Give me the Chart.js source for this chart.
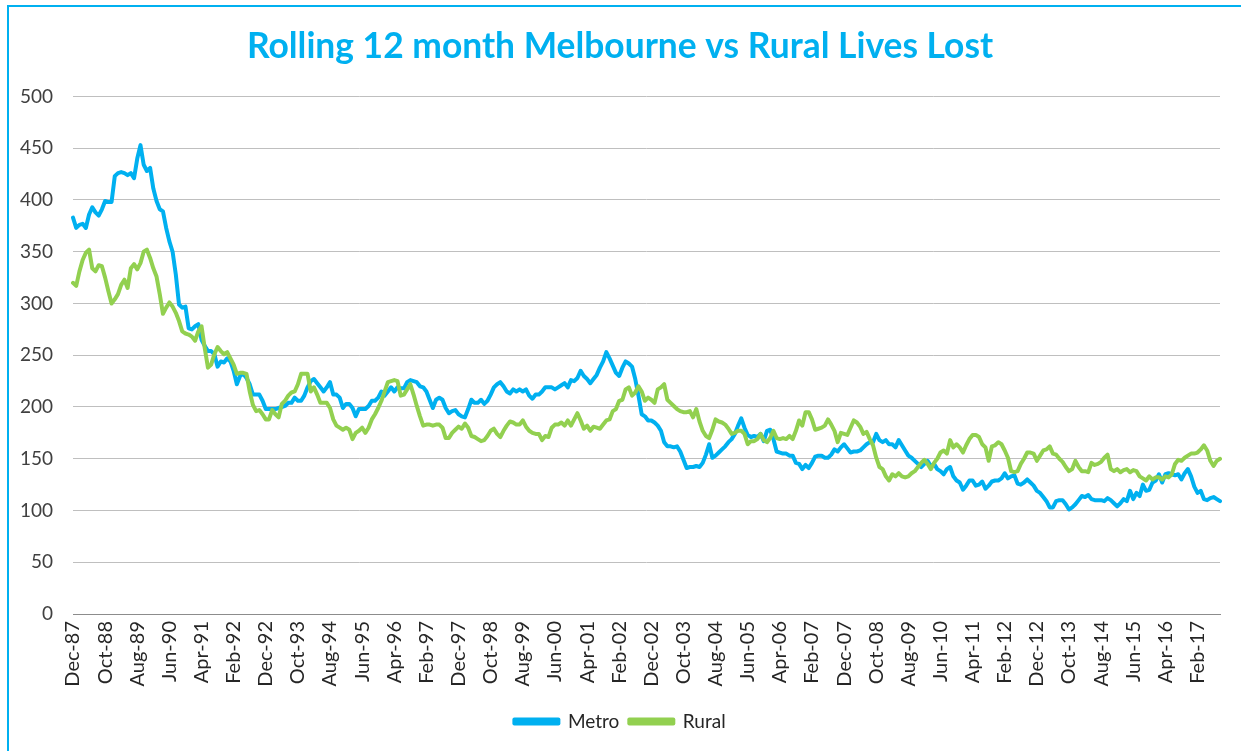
<!DOCTYPE html>
<html>
<head>
<meta charset="utf-8">
<script src="https://cdn.jsdelivr.net/npm/chart.js@4.4.1/dist/chart.umd.min.js"></script>
<style>
  html, body { margin: 0; padding: 0; background: #fff; overflow: hidden; }
  #frame { position: absolute; left: 7px; top: 5px; width: 1300px; height: 800px; border: 2px solid #00B0F0; }
  #wrap { position: absolute; left: 0; top: 0; width: 1241px; height: 751px; }
</style>
</head>
<body>
<div id="frame"></div>
<div id="wrap"><canvas id="chart"></canvas></div>
<script>
// monthly rolling 12 month totals, Dec-87 onwards
const startYear = 1987;
const startMonth = 11; // Dec
const monthNames = ['Jan', 'Feb', 'Mar', 'Apr', 'May', 'Jun', 'Jul', 'Aug', 'Sep', 'Oct', 'Nov', 'Dec'];
const tickEvery = 10;
const yTicks = [0, 50, 100, 150, 200, 250, 300, 350, 400, 450, 500];

const metro = [
    383, 373, 376, 377, 373, 386, 393, 388, 385, 391,
    399, 398, 398, 423, 426, 427, 426, 424, 426, 421,
    440, 453, 434, 428, 431, 411, 399, 391, 389, 373,
    360, 350, 328, 299, 296, 297, 276, 275, 278, 280,
    265, 259, 254, 254, 251, 239, 244, 243, 247, 244,
    235, 222, 230, 232, 228, 222, 212, 212, 212, 206,
    198, 198, 198, 198, 199, 200, 201, 204, 204, 209,
    206, 206, 211, 219, 225, 227, 223, 219, 215, 219,
    224, 212, 212, 209, 199, 203, 203, 199, 191, 198,
    198, 198, 201, 206, 206, 209, 215, 211, 215, 219,
    215, 219, 218, 218, 224, 226, 225, 224, 220, 219,
    215, 207, 199, 207, 209, 207, 199, 194, 196, 197,
    193, 191, 190, 198, 207, 204, 204, 207, 203, 206,
    212, 219, 222, 224, 220, 215, 213, 217, 215, 217,
    215, 217, 211, 208, 212, 212, 215, 219, 219, 219,
    217, 219, 221, 223, 219, 226, 225, 228, 235, 230,
    227, 223, 227, 231, 238, 244, 253, 247, 240, 233,
    230, 238, 244, 242, 239, 227, 211, 193, 191, 187,
    187, 185, 182, 177, 166, 162, 162, 161, 162, 157,
    149, 141, 142, 142, 143, 142, 146, 154, 164, 151,
    153, 156, 159, 162, 166, 169, 174, 182, 189, 180,
    173, 171, 172, 171, 174, 167, 177, 178, 169, 157,
    156, 155, 155, 153, 153, 146, 145, 140, 144, 141,
    146, 152, 153, 153, 151, 151, 154, 159, 157, 161,
    164, 160, 156, 157, 157, 158, 161, 164, 166, 166,
    174, 168, 166, 168, 164, 164, 161, 168, 163, 158,
    153, 151, 148, 145, 142, 145, 148, 143, 145, 140,
    138, 135, 140, 142, 133, 129, 127, 120, 124, 129,
    129, 124, 125, 128, 121, 124, 128, 129, 129, 131,
    136, 131, 133, 134, 126, 125, 127, 130, 127, 124,
    119, 117, 113, 109, 103, 103, 109, 110, 110, 106,
    101, 103, 106, 110, 114, 113, 115, 111, 110, 110,
    110, 109, 112, 110, 107, 104, 107, 111, 109, 119,
    111, 117, 114, 125, 119, 120, 127, 129, 135, 127,
    135, 136, 135, 134, 135, 130, 136, 140, 133, 123,
    117, 119, 111, 110, 112, 113, 111, 109
];

const rural = [
    320, 317, 331, 342, 349, 352, 334, 331, 337, 336,
    325, 312, 300, 304, 309, 318, 323, 315, 334, 338,
    333, 339, 350, 352, 344, 334, 326, 309, 290, 296,
    301, 297, 291, 283, 273, 271, 270, 268, 264, 273,
    278, 257, 238, 241, 251, 258, 254, 251, 253, 247,
    241, 232, 233, 233, 232, 215, 202, 196, 197, 193,
    188, 188, 197, 193, 190, 203, 206, 211, 214, 215,
    222, 232, 232, 232, 215, 219, 212, 204, 204, 204,
    199, 188, 182, 180, 178, 180, 178, 169, 175, 177,
    180, 175, 180, 188, 193, 199, 206, 215, 224, 225,
    226, 225, 211, 212, 217, 222, 212, 201, 191, 182,
    183, 183, 182, 183, 183, 180, 170, 170, 175, 178,
    181, 179, 184, 180, 172, 171, 169, 167, 168, 172,
    177, 179, 174, 171, 177, 182, 186, 185, 183, 183,
    187, 181, 177, 175, 174, 174, 168, 172, 171, 180,
    183, 183, 185, 182, 187, 182, 188, 194, 187, 179,
    182, 177, 181, 180, 179, 183, 187, 188, 196, 198,
    206, 207, 217, 219, 211, 214, 220, 215, 206, 209,
    207, 204, 217, 219, 222, 207, 204, 201, 198, 196,
    195, 195, 196, 190, 198, 186, 177, 172, 170, 178,
    188, 186, 185, 183, 179, 174, 175, 177, 177, 174,
    164, 167, 167, 169, 174, 168, 166, 170, 177, 170,
    169, 170, 169, 172, 169, 177, 187, 182, 195, 195,
    188, 178, 179, 180, 182, 188, 183, 177, 166, 175,
    174, 173, 180, 187, 185, 181, 174, 176, 169, 163,
    151, 142, 140, 133, 129, 135, 133, 136, 133, 132,
    133, 136, 138, 142, 146, 149, 145, 140, 146, 150,
    156, 158, 155, 168, 161, 164, 161, 156, 163, 169,
    173, 173, 171, 164, 161, 148, 162, 163, 166, 164,
    158, 151, 138, 137, 138, 145, 150, 156, 156, 155,
    148, 153, 158, 159, 162, 155, 154, 150, 147, 142,
    138, 140, 148, 142, 138, 138, 137, 146, 144, 145,
    147, 151, 154, 140, 138, 140, 137, 139, 140, 137,
    139, 138, 133, 131, 129, 133, 130, 132, 132, 130,
    133, 132, 135, 145, 149, 148, 151, 153, 155, 155,
    156, 159, 163, 158, 148, 143, 148, 150
];

const labels = metro.map((_, i) => {
    const m = startMonth + i;
    const year = startYear + Math.floor(m / 12);
    return monthNames[m % 12] + '-' + String(year % 100).padStart(2, '0');
});

Chart.defaults.font.family = 'Lato, "Open Sans", sans-serif';

new Chart(document.getElementById('chart'), {
    type: 'line',
    data: {
        labels: labels,
        datasets: [{
            label: 'Metro',
            data: metro,
            borderColor: '#00B0F0',
            backgroundColor: '#00B0F0',
            borderWidth: 4,
            pointRadius: 0,
            tension: 0,
            borderJoinStyle: 'round',
            borderCapStyle: 'round',
            order: 1
        }, {
            label: 'Rural',
            data: rural,
            borderColor: '#92D050',
            backgroundColor: '#92D050',
            borderWidth: 4,
            pointRadius: 0,
            tension: 0,
            borderJoinStyle: 'round',
            borderCapStyle: 'round',
            order: 0
        }]
    },
    options: {
        responsive: true,
        maintainAspectRatio: false,
        animation: false,
        layout: {
            // left padding nudges title and legend towards the frame centre
            padding: { left: 20, right: 21, top: 10, bottom: 10 }
        },
        plugins: {
            title: {
                display: true,
                text: 'Rolling 12 month Melbourne vs Rural Lives Lost',
                color: '#00B0F0',
                font: { size: 35.4, weight: 'bold' },
                padding: { top: 15, bottom: 29 }
            },
            legend: {
                position: 'bottom',
                labels: {
                    boxWidth: 44,
                    boxHeight: 4,
                    color: '#262626',
                    font: { size: 19 },
                    sort: (a, b) => a.datasetIndex - b.datasetIndex
                }
            },
            tooltip: { enabled: false }
        },
        scales: {
            x: {
                grid: { display: false, drawTicks: false },
                border: { display: true, color: '#8C8C8C', width: 1 },
                afterFit: (scale) => {
                    scale.height = 88;
                    scale.paddingRight = 0;
                },
                ticks: {
                    autoSkip: false,
                    minRotation: 90,
                    maxRotation: 90,
                    padding: 7,
                    color: '#262626',
                    font: { size: 20 },
                    callback: function (value, index) {
                        return index % tickEvery === 0 ? this.getLabelForValue(value) : '';
                    }
                }
            },
            y: {
                min: yTicks[0],
                max: yTicks[yTicks.length - 1],
                afterBuildTicks: (scale) => {
                    scale.ticks = yTicks.map(v => ({ value: v }));
                },
                afterFit: (scale) => {
                    scale.width = 53;
                },
                grid: { color: '#BFBFBF', drawTicks: false },
                border: { display: false },
                ticks: {
                    padding: 20,
                    color: '#404040',
                    font: { size: 19 }
                }
            }
        }
    }
});
</script>
</body>
</html>
